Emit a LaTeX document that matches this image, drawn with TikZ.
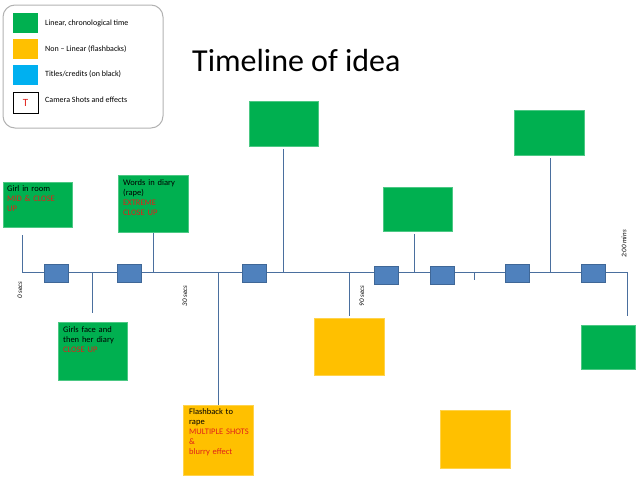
\documentclass[tikz,border=0pt]{standalone}
\usepackage{fontspec}
\setmainfont{Carlito}
\begin{document}
\begin{tikzpicture}[x=1pt,y=-1pt,
  every node/.style={inner sep=0pt},
  ln/.style={draw=lineblue,line width=0.8pt},
  gbox/.style={fill=tgreen,draw=tgreen!70!white},
  obox/.style={fill=torange,draw=torange!70!white},
  bbox/.style={fill=tblue,draw=tblue!80!black,line width=0.3pt},
  txt/.style={font=\fontsize{8.5}{10}\selectfont,align=left,anchor=north west,text width=60pt},
  tick/.style={font=\fontsize{7}{8}\selectfont\itshape,rotate=90}]
\definecolor{tgreen}{HTML}{00B050}
\definecolor{torange}{HTML}{FFC000}
\definecolor{tblue}{HTML}{4F81BD}
\definecolor{lineblue}{HTML}{4A6F9E}
\definecolor{tred}{HTML}{E0201A}
\definecolor{lblue}{HTML}{00B0F0}
\useasboundingbox (0,0) rectangle (638,479);
% legend
\draw[gray!60,line width=1pt,rounded corners=12pt] (3,5) rectangle (163,128);
\fill[tgreen] (13,13) rectangle (38,33);
\fill[torange] (13,39) rectangle (38,59);
\fill[lblue] (13,65) rectangle (38,85);
\draw[black,line width=0.8pt] (13,92) rectangle (38,113);
\node[text=tred,font=\fontsize{11}{12}\selectfont] at (25.5,103) {T};
\node[anchor=west,font=\fontsize{8}{9}\selectfont] (l1) at (45,23) {Linear, chronological time};
\node[anchor=west,font=\fontsize{8}{9}\selectfont] (l2) at (45,49) {Non -- Linear (flashbacks)};
\node[anchor=west,font=\fontsize{8}{9}\selectfont] (l3) at (45,74) {Titles/credits (on black)};
\node[anchor=west,font=\fontsize{8}{9}\selectfont] (l4) at (45,100) {Camera Shots and effects};
% title
\node[anchor=west,font=\fontsize{32}{36}\selectfont] (title) at (192,61) {Timeline of idea};
% timeline
\coordinate (L) at (22,272);
\coordinate (R) at (627,272);
\draw[ln] (L) -- (R);
% connectors
\coordinate (c1) at (22,272); \coordinate (c2) at (92,272); \coordinate (c3) at (153,272);
\coordinate (c4) at (218,272); \coordinate (c5) at (283,272); \coordinate (c6) at (349,272);
\coordinate (c7) at (414,272); \coordinate (c8) at (474,272); \coordinate (c9) at (550,272);
\coordinate (c10) at (627,272);
% boxes
\path[gbox] (3,182) rectangle (72,227) coordinate (b1);
\node[txt] (t1) at (7,185) {Girl in room\\\textcolor{tred}{MID \& CLOSE UP}};
\path[gbox] (58,322) rectangle (127,380);
\node[txt] (t2) at (63,326) {Girls face and then her diary\\\textcolor{tred}{CLOSE UP}};
\path[gbox] (118,175) rectangle (188,232);
\node[txt] (t3) at (123,179) {Words in diary (rape)\\\textcolor{tred}{EXTREME\\CLOSE UP}};
\path[obox] (183,405) rectangle (253,475);
\node[txt] (t4) at (189,408) {Flashback to rape\\\textcolor{tred}{MULTIPLE SHOTS \&\\blurry effect}};
\path[gbox] (249,101) rectangle (318,146);
\path[obox] (314,318) rectangle (384,375);
\path[gbox] (383,187) rectangle (452,231);
\path[obox] (440,410) rectangle (510,468);
\path[gbox] (514,110) rectangle (584,155);
\path[gbox] (581,325) rectangle (635,369);
\draw[ln] (c1) -- (22,235);
\draw[ln] (c2) -- (92,313);
\draw[ln] (c3) -- (153,233);
\draw[ln] (c4) -- (218,405);
\draw[ln] (c5) -- (283,149);
\draw[ln] (c6) -- (349,316);
\draw[ln] (c7) -- (414,234);
\draw[ln] (c8) -- (474,280);
\draw[ln] (c9) -- (550,158);
\draw[ln] (c10) -- (627,316);
% blue markers
\foreach \x/\y in {44/264,117/264,242/264,374/266,430/266,505/264,581/264}
  \path[bbox] (\x,\y) rectangle ++(24,18);
% tick labels
\node[tick] (s0) at (20,290) {0 secs};
\node[tick] (s30) at (185,296) {30 secs};
\node[tick] (s90) at (362,296) {90 secs};
\node[tick] (s120) at (624,244) {2:00 mins};
\end{tikzpicture}
\end{document}
